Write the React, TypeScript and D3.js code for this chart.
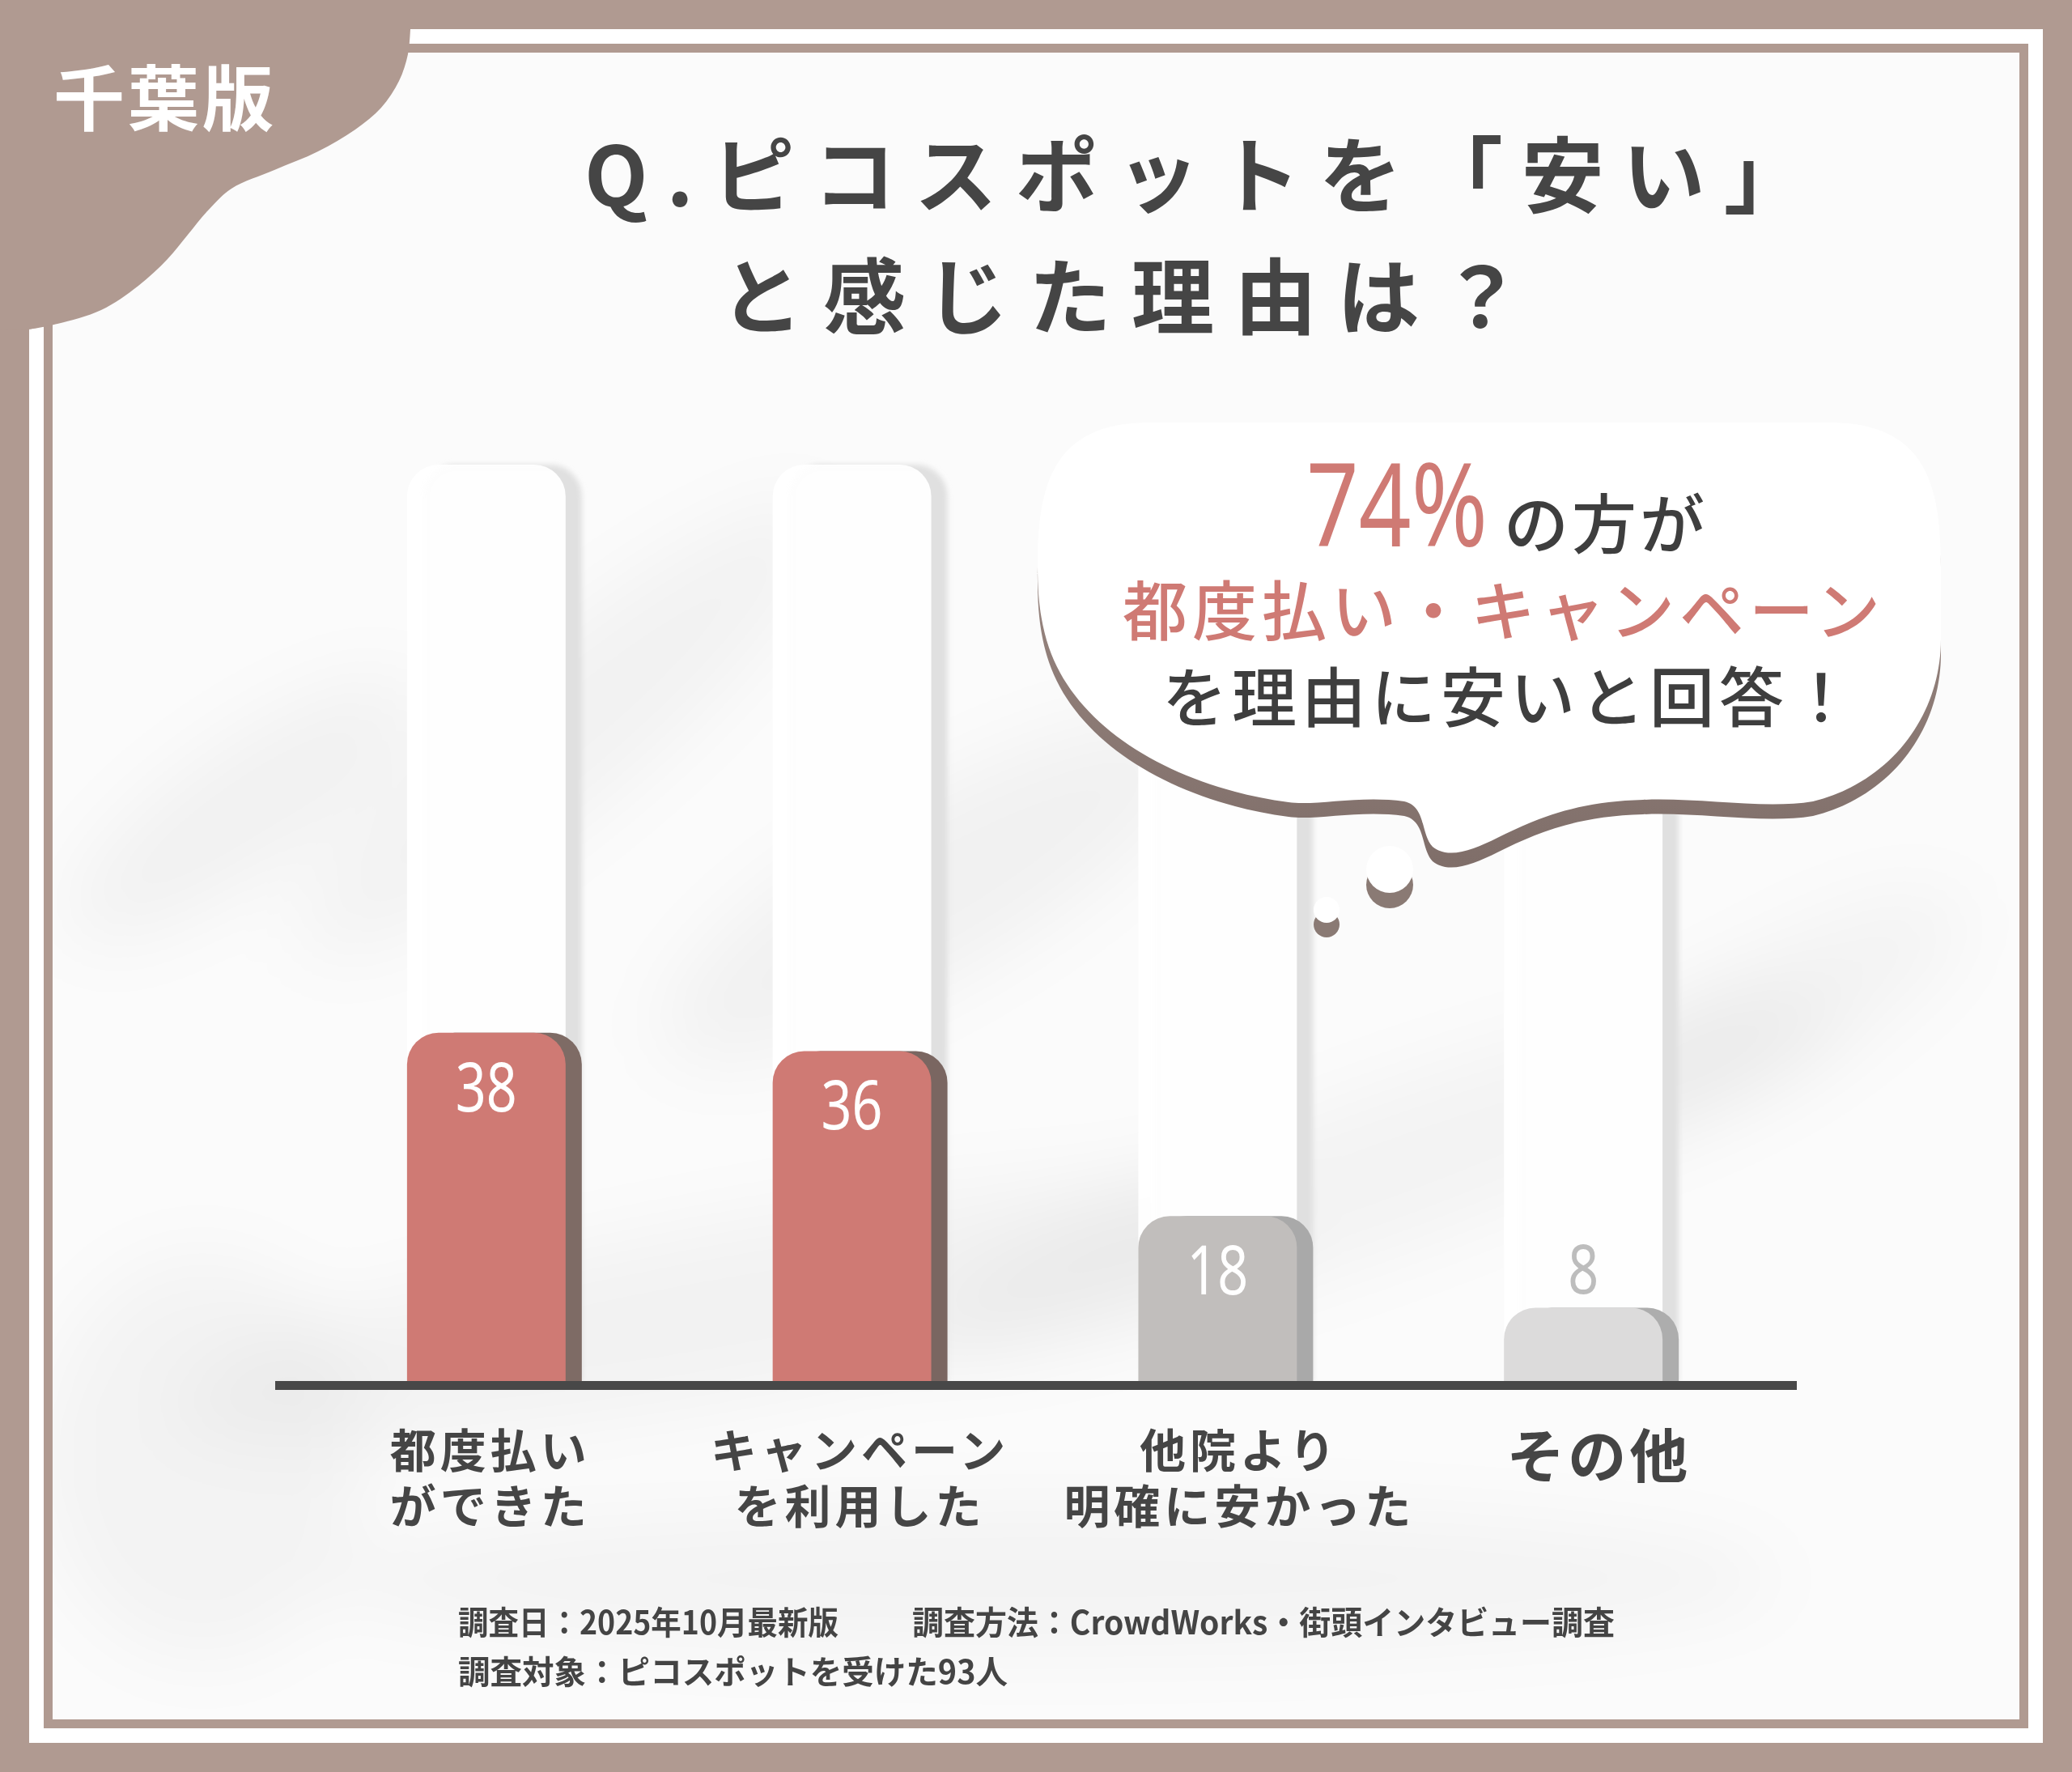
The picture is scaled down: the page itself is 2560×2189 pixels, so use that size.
import React from "react";
import * as d3 from "d3";

// ---------- data ----------
const categories = ["都度払いができた", "キャンペーンを利用した", "他院より明確に安かった", "その他"];
const labelLines = [["都度払い", "ができた"], ["キャンペーン", "を利用した"], ["他院より", "明確に安かった"], ["その他"]];
const values = [38, 36, 18, 8];
const trackValue = 100;
const faceColors = ["#CF7A74", "#CF7A74", "#C1BEBC", "#DCDBDB"];
const sideColors = ["#7E6B65", "#7A6661", "#A9A9A9", "#ADADAD"];
const valueColors = ["#FFFFFF", "#FFFFFF", "#FFFFFF", "#BDBDBD"];
const badgeText = "千葉版";
const titleLines = ["Q.ピコスポットを「安い」", "と感じた理由は？"];
const calloutPct = "74%";
const calloutTail = "の方が";
const calloutLine2 = "都度払い・キャンペーン";
const calloutLine3 = "を理由に安いと回答！";
const footerA = "調査日：2025年10月最新版";
const footerB = "調査方法：CrowdWorks・街頭インタビュー調査";
const footerC = "調査対象：ピコスポットを受けた93人";

// layout tweaks (not data)
const labelNudge = [-8, -3, 14, 7];

const W = 2560;
const H = 2189;
const BROWN = "#B09A91";
const DARK = "#454545";
const RED = "#CF7A74";
const JP = "'Noto Sans CJK JP', 'Noto Sans', sans-serif";
const NUM = "'Noto Sans', 'Noto Sans CJK JP', sans-serif";

function topRounded(x: number, y: number, w: number, y0: number, r: number) {
  const rr = Math.min(r, (y0 - y), w / 2);
  return `M${x},${y0} V${y + rr} A${rr},${rr} 0 0 1 ${x + rr},${y} H${x + w - rr} A${rr},${rr} 0 0 1 ${x + w},${y + rr} V${y0} Z`;
}

export default function App() {
  const x = d3.scaleBand<string>().domain(categories).range([277, 2300]).paddingInner(0.522).paddingOuter(0.5);
  const y = d3.scaleLinear().domain([0, trackValue]).range([1706, 574]);
  const side = 20;
  const faceW = x.bandwidth() - side;
  const radius = 39;
  const base = y(0);

  const blobPts: [number, number][] = [
    [507, 36], [504, 67], [493, 100], [471, 133], [439, 160], [393, 187], [339, 210],
    [286, 233], [257, 260], [232, 290], [207, 320], [171, 353], [125, 383], [71, 400], [36, 407],
  ];
  const blobLine = d3.line().curve(d3.curveCatmullRom.alpha(0.5))(blobPts) as string;
  const blobPath = `M0,0 H507 V36 ${blobLine.replace(/^M/, "L")} L0,408 Z`;

  const bubble =
    "M1282,700 C1282,600 1300,522 1420,522 L2260,522 C2380,522 2398,600 2398,700 L2398,790 " +
    "C2398,880 2340,965 2240,990 C2180,1000 2100,985 2030,988 C1950,990 1900,1010 1850,1035 " +
    "C1820,1050 1790,1062 1770,1046 C1755,1030 1762,996 1735,990 C1680,982 1625,996 1592,991 " +
    "C1450,972 1330,900 1296,800 C1286,770 1282,740 1282,700 Z";

  return (
    <svg width={W} height={H} viewBox={`0 0 ${W} ${H}`} style={{ position: "absolute", left: 0, top: 0, display: "block" }}>
      <defs>
        <filter id="soft" x="-50%" y="-50%" width="200%" height="200%">
          <feGaussianBlur stdDeviation="45" />
        </filter>
        <filter id="softS" x="-50%" y="-50%" width="200%" height="200%">
          <feGaussianBlur stdDeviation="3" />
        </filter>
        <clipPath id="inner">
          <rect x={65} y={65} width={2430} height={2059} />
        </clipPath>
        <linearGradient id="bshadow" x1="0" y1="0" x2="0" y2="1">
          <stop offset="0" stopColor="#A3908A" />
          <stop offset="1" stopColor="#7F6E69" />
        </linearGradient>
      </defs>

      {/* outer frame */}
      <rect x={0} y={0} width={W} height={H} fill={BROWN} />
      <rect x={36} y={36} width={2488} height={2117} fill="#FFFFFF" />
      <rect x={59.5} y={59.5} width={2441} height={2070} fill="none" stroke={BROWN} strokeWidth={11} />
      <rect x={65} y={65} width={2430} height={2059} fill="#FBFBFB" />

      {/* soft background shadows */}
      <g clipPath="url(#inner)" filter="url(#soft)" fill="#000">
        <ellipse cx={300} cy={1000} rx={260} ry={80} opacity={0.04} transform="rotate(-35 300 1000)" />
        <ellipse cx={700} cy={900} rx={420} ry={100} opacity={0.035} transform="rotate(-40 700 900)" />
        <ellipse cx={1150} cy={1100} rx={380} ry={110} opacity={0.04} transform="rotate(-30 1150 1100)" />
        <ellipse cx={900} cy={1620} rx={700} ry={110} opacity={0.035} transform="rotate(-10 900 1620)" />
        <ellipse cx={1700} cy={1450} rx={600} ry={100} opacity={0.03} transform="rotate(-20 1700 1450)" />
        <ellipse cx={2200} cy={1250} rx={260} ry={80} opacity={0.03} transform="rotate(-30 2200 1250)" />
        <ellipse cx={1300} cy={1950} rx={900} ry={90} opacity={0.03} />
        <ellipse cx={250} cy={1800} rx={200} ry={250} opacity={0.03} />
      </g>

      {/* track columns */}
      {categories.map((c) => {
        const x0 = x(c) as number;
        return (
          <g key={"t" + c}>
            <path d={topRounded(x0 + side, y(trackValue), faceW, base, radius)} fill="#E0E0E0" filter="url(#softS)" />
            <path d={topRounded(x0, y(trackValue), faceW, base, radius)} fill="#FFFFFF" opacity={0.94} />
          </g>
        );
      })}

      {/* bars */}
      {categories.map((c, i) => {
        const x0 = x(c) as number;
        const top = y(values[i]);
        return (
          <g key={"b" + c}>
            <path d={topRounded(x0 + side, top, faceW, base, radius)} fill={sideColors[i]} />
            <path d={topRounded(x0, top, faceW, base, radius)} fill={faceColors[i]} />
          </g>
        );
      })}

      {/* value labels */}
      {categories.map((c, i) => {
        const x0 = x(c) as number;
        const top = y(values[i]);
        const inside = base - top > 150;
        const cy = inside ? top + 67 : top - 47;
        const s = String(values[i]);
        return (
          <text key={"v" + c} x={x0 + faceW / 2} y={cy + 30} textAnchor="middle" fontFamily={NUM} fontSize={84}
            fill={valueColors[i]} textLength={s.length * 38} lengthAdjust="spacingAndGlyphs">{s}</text>
        );
      })}

      {/* axis */}
      <rect x={340} y={1706} width={1880} height={11} fill="#484848" />

      {/* category labels */}
      {categories.map((c, i) => {
        const cx = (x(c) as number) + x.bandwidth() / 2 + labelNudge[i];
        const lines = labelLines[i];
        if (lines.length === 1) {
          return (
            <text key={"l" + c} x={cx + 2} y={1793} textAnchor="middle" dominantBaseline="central" fontFamily={JP}
              fontWeight={700} fontSize={72} letterSpacing={4} fill={DARK}>{lines[0]}</text>
          );
        }
        return (
          <text key={"l" + c} textAnchor="middle" dominantBaseline="central" fontFamily={JP}
            fontWeight={700} fontSize={57} letterSpacing={5} fill={DARK}>
            {lines.map((ln, j) => (
              <tspan key={j} x={cx + 3} y={1788 + j * 69}>{ln}</tspan>
            ))}
          </text>
        );
      })}

      {/* speech bubble */}
      <path d={bubble} fill="url(#bshadow)" transform="translate(0,18)" />
      <path d={bubble} fill="#FFFFFF" />
      <circle cx={1717} cy={1093} r={29} fill="#8A7A74" />
      <circle cx={1717} cy={1074} r={29} fill="#FFFFFF" />
      <circle cx={1639} cy={1142} r={16} fill="#8A7A74" />
      <circle cx={1639} cy={1124} r={16} fill="#FFFFFF" />

      <text x={1614} y={675} fontFamily={NUM} fontSize={143} fill={RED} textLength={224} lengthAdjust="spacingAndGlyphs">{calloutPct}</text>
      <text x={1858} y={642} dominantBaseline="central" fontFamily={JP} fontWeight={500} fontSize={80} letterSpacing={4} fill="#3E3E3E">{calloutTail}</text>
      <text x={1858} y={749} textAnchor="middle" dominantBaseline="central" fontFamily={JP} fontWeight={500} fontSize={80} letterSpacing={6} fill={RED}>{calloutLine2}</text>
      <text x={1866} y={856} textAnchor="middle" dominantBaseline="central" fontFamily={JP} fontWeight={500} fontSize={80} letterSpacing={6} fill="#3E3E3E">{calloutLine3}</text>

      {/* title */}
      <text x={722} y={210} dominantBaseline="central" fontFamily={JP} fontWeight={700} fontSize={102} letterSpacing={23} fill={DARK}>{titleLines[0]}</text>
      <text x={890} y={360} dominantBaseline="central" fontFamily={JP} fontWeight={700} fontSize={102} letterSpacing={25} fill={DARK}>{titleLines[1]}</text>

      {/* footer */}
      <text x={566} y={2002} dominantBaseline="central" fontFamily={JP} fontWeight={700} fontSize={40} fill="#444444" textLength={470} lengthAdjust="spacingAndGlyphs">{footerA}</text>
      <text x={1127} y={2002} dominantBaseline="central" fontFamily={JP} fontWeight={700} fontSize={40} fill="#444444" textLength={868} lengthAdjust="spacingAndGlyphs">{footerB}</text>
      <text x={566} y={2063} dominantBaseline="central" fontFamily={JP} fontWeight={700} fontSize={40} fill="#444444" textLength={679} lengthAdjust="spacingAndGlyphs">{footerC}</text>

      {/* corner badge */}
      <path d={blobPath} fill={BROWN} />
      <text x={66} y={115} dominantBaseline="central" fontFamily={JP} fontWeight={700} fontSize={88} letterSpacing={4} fill="#FFFFFF">{badgeText}</text>
    </svg>
  );
}
